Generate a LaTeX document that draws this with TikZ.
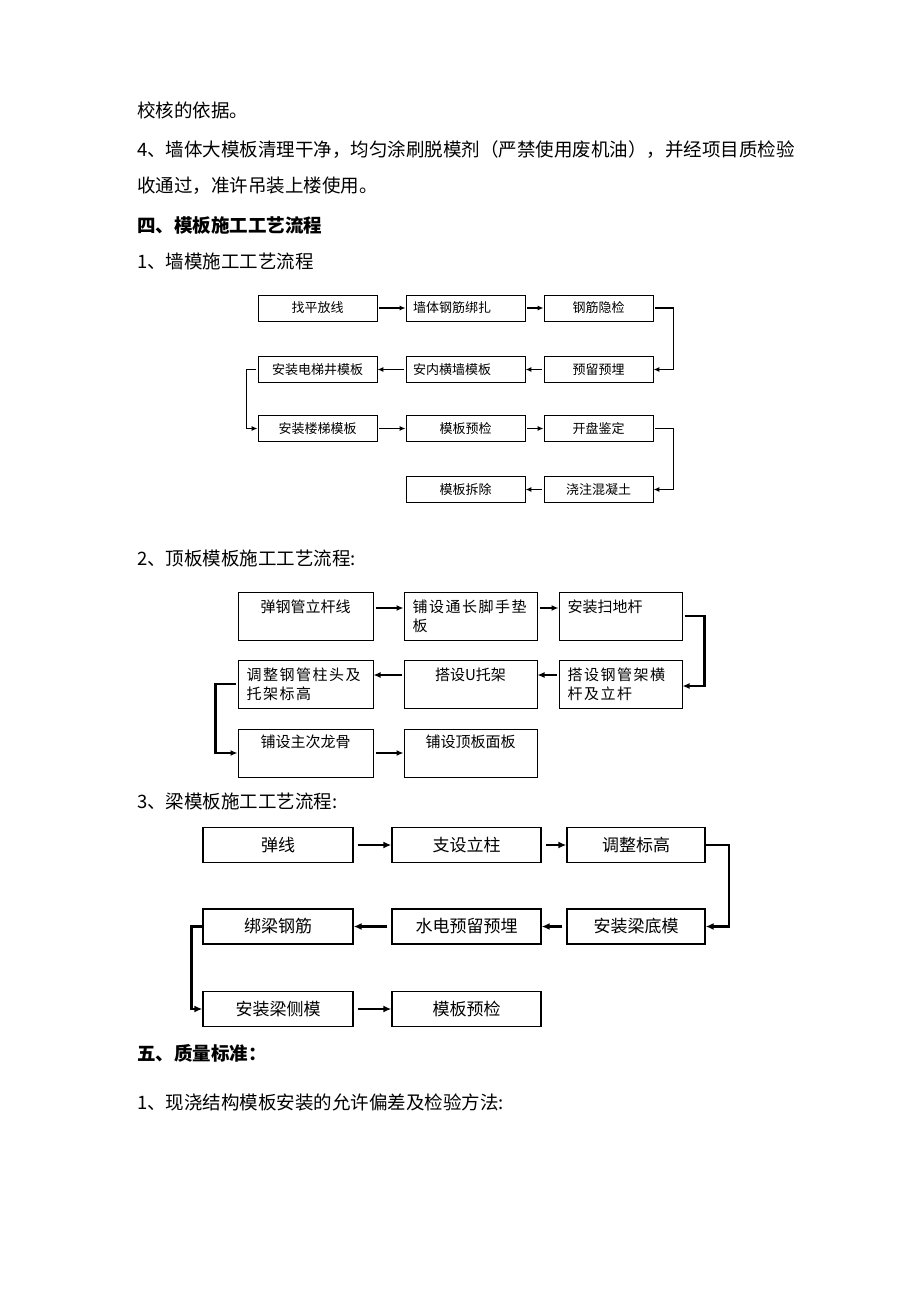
\documentclass[tikz,border=0pt]{standalone}
\usepackage{fontspec}
\usepackage{tikz}
\usetikzlibrary{arrows.meta}
\newfontfamily\cjk{Noto Sans CJK SC}
\newfontfamily\cjkw[LetterSpace=10]{Noto Sans CJK SC}

\begin{document}
\begin{tikzpicture}[x=1pt, y=-1pt,
  para/.style={anchor=west, inner sep=0, font=\cjk\fontsize{18.5}{22}\selectfont},
  head/.style={para, font=\cjk\bfseries\fontsize{18.5}{22}\selectfont},
  wbox/.style={draw, line width=0.9pt, minimum width=119, minimum height=26, inner sep=0, font=\cjk\fontsize{13}{13}\selectfont},
  tbox/.style={draw, line width=1pt, minimum height=48, inner sep=0},
  ttxt/.style={inner sep=0, font=\cjk\fontsize{15}{19}\selectfont},
  twide/.style={inner sep=0, anchor=north west, align=left, font=\cjkw\fontsize{15}{19}\selectfont},
  bbox/.style={draw, line width=1.3pt, minimum height=35, inner sep=0, font=\cjk\fontsize{17}{17}\selectfont},
  warr/.style={line width=1.1pt, shorten <=2pt, -{Latex[length=6pt,width=5pt]}},
  tarr/.style={line width=2pt, shorten <=2pt, -{Latex[length=7pt,width=6pt]}},
  barr/.style={line width=2.3pt, shorten <=4pt, -{Latex[length=8pt,width=7pt]}}]
\fill[white] (0,0) rectangle (920,1302);
\useasboundingbox (0,0) rectangle (920,1302);

\node[para] (p1) at (137,110) {校核的依据。};
\node[para] (p2) at (137,150) {4、墙体大模板清理干净，均匀涂刷脱模剂（严禁使用废机油），并经项目质检验};
\node[para] (p3) at (137,186) {收通过，准许吊装上楼使用。};
\node[head] (h4) at (137,225) {四、模板施工工艺流程};
\node[para] (s1) at (137,261) {1、墙模施工工艺流程};

\node[wbox] (w1) at (317.5,308) {找平放线};
\node[wbox, text width=105, align=left] (w2) at (465.5,308) {墙体钢筋绑扎};
\node[wbox, minimum width=109] (w3) at (598.5,308) {钢筋隐检};
\node[wbox, minimum width=109] (w4) at (598.5,369.5) {预留预埋};
\node[wbox, text width=105, align=left] (w5) at (465.5,369.5) {安内横墙模板};
\node[wbox] (w6) at (317.5,369.5) {安装电梯井模板};
\node[wbox] (w7) at (317.5,428.5) {安装楼梯模板};
\node[wbox] (w8) at (465.5,428.5) {模板预检};
\node[wbox, minimum width=109] (w9) at (598.5,428.5) {开盘鉴定};
\node[wbox, minimum width=109] (w10) at (598.5,489.5) {浇注混凝土};
\node[wbox] (w11) at (465.5,489.5) {模板拆除};
\draw[warr] (w1) -- (w2);
\draw[warr] (w2) -- (w3);
\draw[warr] (w3.east) -- ++(20,0) |- (w4.east);
\draw[warr] (w4) -- (w5);
\draw[warr] (w5) -- (w6);
\draw[warr] (w6.west) -- ++(-11,0) |- (w7.west);
\draw[warr] (w7) -- (w8);
\draw[warr] (w8) -- (w9);
\draw[warr] (w9.east) -- ++(20,0) |- (w10.east);
\draw[warr] (w10) -- (w11);

\node[para] (s2) at (137,558) {2、顶板模板施工工艺流程:};

\node[tbox, minimum width=135] (t1) at (305.5,616) {};
\node[tbox, minimum width=133] (t2) at (470.5,616) {};
\node[tbox, minimum width=123] (t3) at (620.5,616) {};
\node[tbox, minimum width=123] (t4) at (620.5,684) {};
\node[tbox, minimum width=133] (t5) at (470.5,684) {};
\node[tbox, minimum width=135] (t6) at (305.5,684) {};
\node[tbox, minimum width=135] (t7) at (305.5,753) {};
\node[tbox, minimum width=133] (t8) at (470.5,753) {};
\node[ttxt, anchor=north] (t1x) at ([yshift=-8]t1.north) {弹钢管立杆线};
\node[twide] (t2x) at ([xshift=9,yshift=-8]t2.north west) {铺设通长脚手垫\\板};
\node[ttxt, anchor=north west] (t3x) at ([xshift=9,yshift=-8]t3.north west) {安装扫地杆};
\node[twide] (t4x) at ([xshift=9,yshift=-8]t4.north west) {搭设钢管架横\\杆及立杆};
\node[ttxt, anchor=north] (t5x) at ([yshift=-8]t5.north) {搭设U托架};
\node[twide] (t6x) at ([xshift=9,yshift=-8]t6.north west) {调整钢管柱头及\\托架标高};
\node[ttxt, anchor=north] (t7x) at ([yshift=-6]t7.north) {铺设主次龙骨};
\node[ttxt, anchor=north] (t8x) at ([yshift=-6]t8.north) {铺设顶板面板};
\draw[tarr] ([yshift=8]t1.east) -- ([yshift=8]t2.west);
\draw[tarr] ([yshift=8]t2.east) -- ([yshift=8]t3.west);
\draw[tarr, line width=2.4pt] (t3.east) -- ++(22,0) |- ([yshift=-2]t4.east);
\draw[tarr, line width=1.3pt] ([yshift=9]t4.west) -- ([yshift=9]t5.east);
\draw[tarr, line width=1.3pt] ([yshift=9]t5.west) -- ([yshift=9]t6.east);
\draw[tarr, line width=2.4pt] (t6.west) -- ++(-22,0) |- (t7.west);
\draw[tarr, line width=2.4pt] (t7) -- (t8);

\node[para] (s3) at (137,801) {3、梁模板施工工艺流程:};

\node[bbox, minimum width=150] (b1) at (278,845) {弹线};
\node[bbox, minimum width=149] (b2) at (466.5,845) {支设立柱};
\node[bbox, minimum width=138] (b3) at (636,845) {调整标高};
\node[bbox, minimum width=138] (b4) at (636,926.5) {安装梁底模};
\node[bbox, minimum width=149] (b5) at (466.5,926.5) {水电预留预埋};
\node[bbox, minimum width=150] (b6) at (278,926.5) {绑梁钢筋};
\node[bbox, minimum width=150] (b7) at (278,1009) {安装梁侧模};
\node[bbox, minimum width=149] (b8) at (466.5,1009) {模板预检};
\draw[barr] (b1) -- (b2);
\draw[barr] (b2) -- (b3);
\draw[barr, shorten <=0pt] (b3.east) -- ++(23,0) |- (b4.east);
\draw[barr] (b4) -- (b5);
\draw[barr] (b5) -- (b6);
\draw[barr, shorten <=0pt] (b6.west) -- ++(-11,0) |- (b7.west);
\draw[barr] (b7) -- (b8);

\node[head] (h5) at (137,1053) {五、质量标准：};
\node[para] (s4) at (137,1102) {1、现浇结构模板安装的允许偏差及检验方法:};
\end{tikzpicture}
\end{document}
